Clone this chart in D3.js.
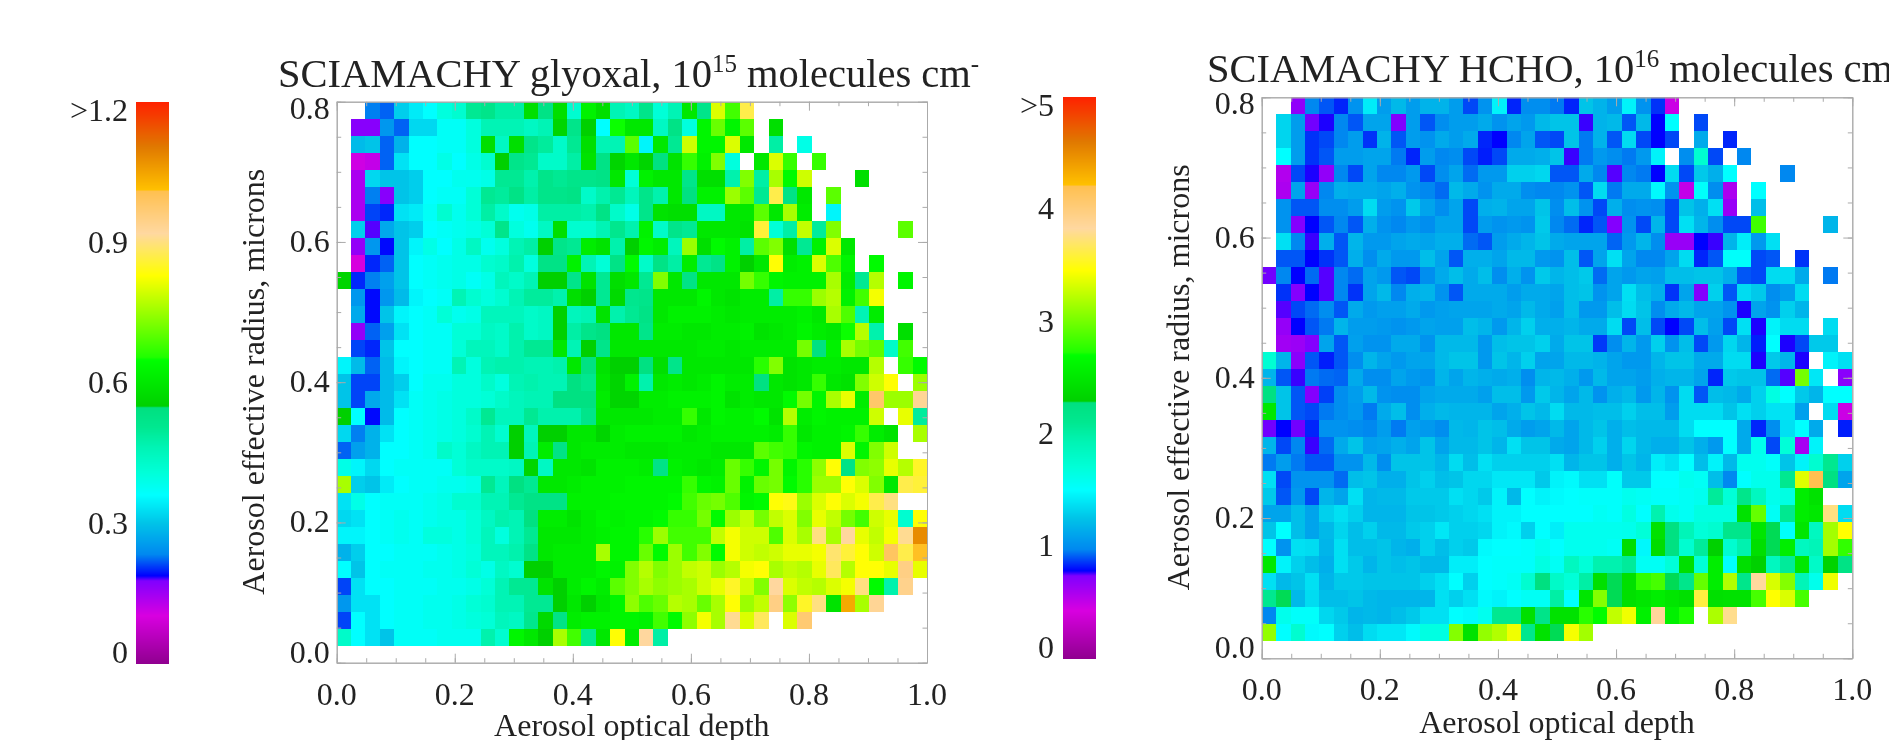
<!DOCTYPE html>
<html lang="en">
<head>
<title>SCIAMACHY glyoxal and HCHO</title>
<script src="https://d3js.org/d3.v7.min.js"></script>
<style>
  html, body { margin: 0; padding: 0; background: #fff; overflow: hidden; }
  svg { display: block; filter: blur(0.6px); }
  text { font-family: "Liberation Serif", serif; fill: #222; }
  .domain, .tick line { stroke: #aaa; stroke-width: 1; }
</style>
</head>
<body>
<script>
var _ = null

// cell values, top row first, in hundredths of the colour bar unit
var glyoxalRows = [
[_,_,23,22,31,34,36,40,42,50,52,48,48,58,53,58,42,62,58,46,44,52,41,46,60,52,80,68,87],
[_,17,17,25,22,32,32,37,37,40,46,46,46,44,46,56,52,55,36,65,60,60,44,53,40,63,71,63,70,_,58],
[_,29,30,22,28,36,36,37,37,40,58,44,58,52,49,43,50,58,46,46,70,35,60,50,79,63,63,80,60,_,48,_,39],
[_,11,12,22,33,36,36,39,36,39,42,55,52,50,43,43,48,59,53,56,60,56,54,59,67,62,73,40,_,60,80,67,_,67],
[_,14,32,30,30,31,36,36,38,38,39,50,50,47,52,50,52,52,53,60,41,62,60,60,52,58,58,47,73,48,76,64,79,_,_,_,58],
[_,14,23,17,30,31,36,37,37,41,50,49,53,48,52,52,53,43,47,50,45,52,47,60,54,62,62,75,70,50,87,53,60,_,70],
[_,14,21,20,33,34,37,42,38,41,48,43,38,39,48,48,48,47,53,43,39,52,59,58,58,44,44,60,60,70,60,76,61,_,35],
[_,31,18,27,30,31,36,37,38,39,41,52,40,38,44,58,42,42,46,51,47,62,43,52,50,60,60,60,59,86,41,48,78,49,73,_,_,_,_,70],
[_,16,25,19,30,35,39,36,39,44,38,40,46,48,55,52,50,61,59,47,55,63,61,45,75,58,64,62,48,70,73,58,50,62,80,60],
[_,10,20,22,30,36,37,38,39,39,42,43,47,40,53,53,62,46,41,53,64,43,53,48,61,50,53,62,55,60,83,61,62,80,69,63,_,64],
[56,20,23,26,30,36,37,38,39,37,39,45,43,46,55,55,52,59,50,58,60,50,73,60,53,60,60,60,72,67,63,62,62,62,76,61,50,77,_,63],
[_,25,19,25,29,35,36,37,46,42,40,42,46,49,49,47,58,55,50,57,51,52,60,60,60,63,60,59,61,61,48,67,67,75,77,62,68,82],
[_,27,19,30,35,36,37,41,38,39,45,45,45,43,44,55,45,46,59,47,50,53,60,62,62,62,61,60,61,61,61,61,62,60,76,69,46,61],
[_,16,22,26,33,36,37,37,41,41,44,43,47,43,44,55,48,52,54,60,60,52,61,61,60,60,61,61,62,59,60,61,63,61,60,65,77,47,_,58],
[_,21,20,30,36,36,37,37,41,45,45,43,47,50,50,60,46,55,52,60,60,60,60,60,60,61,61,60,61,61,61,61,72,54,62,76,72,70,43,68],
[35,29,22,29,35,36,37,37,46,40,46,47,47,46,46,47,60,54,59,55,55,54,58,52,60,60,60,60,60,66,73,59,60,61,61,60,60,77,_,67,64],
[30,21,21,29,31,36,38,38,40,40,43,40,46,47,46,46,54,51,60,56,62,47,60,61,60,61,63,61,61,54,60,59,60,67,60,59,73,79,83,_,75],
[30,21,27,29,33,37,38,39,40,40,41,43,45,46,46,54,54,54,61,56,56,61,61,62,62,62,63,59,61,60,60,64,72,63,76,81,61,98,75,75,93],
[55,36,19,29,36,37,38,39,40,43,50,45,45,50,47,47,47,52,60,60,60,60,61,61,67,60,63,62,62,64,59,77,61,63,62,62,62,79,_,81,49],
[32,23,28,33,36,37,38,39,40,42,46,42,55,45,55,55,60,60,56,61,62,62,62,62,60,61,62,62,62,62,61,67,60,62,62,63,67,61,59,_,76],
[22,26,28,36,36,37,38,43,41,44,46,46,55,46,61,53,60,61,61,61,60,60,60,61,61,61,60,60,60,70,68,67,63,62,62,80,63,73,79],
[39,35,32,36,37,37,37,37,41,43,43,43,44,56,44,60,60,59,62,62,62,61,53,62,61,60,61,71,67,63,72,63,66,74,83,53,73,74,81,77,85],
[76,31,30,34,36,37,37,38,38,39,50,45,54,50,60,60,61,62,62,62,63,63,63,63,67,63,62,71,62,71,72,64,66,75,75,83,80,73,60,87,86],
[33,39,36,37,37,37,38,39,42,42,46,46,50,53,53,53,62,62,62,63,63,63,63,64,68,71,72,69,63,64,83,84,75,80,83,80,82,87,90],
[32,33,36,37,38,37,38,39,39,41,44,47,46,54,61,61,59,61,63,62,63,63,64,67,67,72,64,75,78,72,78,80,73,81,78,72,68,79,81,42,83],
[35,35,36,37,38,37,40,40,39,41,45,40,46,50,60,60,60,61,62,63,63,66,75,68,68,68,78,82,79,79,69,80,76,90,76,92,81,78,82,91,108],
[28,31,36,36,37,37,37,38,39,40,45,45,47,53,60,61,61,61,76,63,63,71,64,75,68,73,64,82,79,78,79,81,81,82,89,86,83,79,99,87,101],
[36,30,36,37,37,37,38,38,39,41,39,44,42,55,55,61,61,61,63,62,73,77,73,75,78,79,75,77,82,83,76,78,77,81,88,77,83,83,81,95,81],
[21,33,36,36,37,37,37,38,38,39,41,46,50,50,59,55,61,63,61,70,73,76,74,75,76,79,81,85,79,73,92,80,78,77,80,82,90,64,47,94],
[25,33,33,36,37,37,38,38,39,41,42,46,46,50,50,55,60,55,60,63,74,69,71,77,76,71,76,83,75,78,95,74,85,90,59,104,76,93],
[21,36,33,36,37,37,38,38,39,40,41,45,44,51,57,53,61,62,62,63,63,62,68,64,74,82,76,91,80,88,_,80,97],
[43,36,33,30,37,37,37,38,38,38,47,42,63,60,55,76,68,50,60,83,61,92,48]
]

var hchoRows = [
[_,_,68,97,90,83,102,142,107,120,107,117,117,107,88,102,145,83,100,100,95,83,125,117,107,145,102,85,47],
[_,132,107,74,77,97,90,110,110,73,107,90,100,107,107,113,102,110,105,120,125,125,76,117,120,90,120,78,150,_,88],
[_,132,107,85,88,97,107,85,117,90,107,102,113,107,113,83,78,97,110,90,88,125,95,117,90,135,88,78,88,_,113,_,83],
[_,150,107,85,90,107,107,110,110,95,83,107,97,100,88,82,88,113,113,115,125,76,95,105,100,95,105,145,_,100,175,88,_,97],
[_,56,88,77,67,97,88,110,97,97,105,88,100,110,93,105,105,130,130,133,90,90,113,97,75,97,95,78,135,88,127,115,150,_,_,_,97],
[_,58,110,65,97,115,113,113,110,115,102,97,93,120,113,102,113,113,100,97,97,102,90,135,95,113,113,148,102,50,152,100,58,_,150],
[_,102,90,90,100,100,107,135,107,102,127,110,100,110,88,115,117,110,110,125,100,122,102,88,115,100,102,100,88,125,115,137,65,_,122],
[_,102,72,78,90,97,90,115,102,97,105,100,110,110,88,107,102,105,102,127,97,93,83,90,72,102,88,118,88,137,118,100,88,88,283,_,_,_,_,118],
[_,137,97,76,115,90,118,105,105,110,113,110,115,115,93,90,107,113,118,125,113,110,110,110,92,105,118,100,65,65,78,76,118,143,105,137],
[_,90,90,78,85,90,115,100,113,105,105,122,110,90,115,115,110,120,120,105,102,122,90,110,137,110,97,97,110,135,83,90,152,152,88,90,_,85],
[74,97,78,93,75,97,93,110,105,90,88,100,113,122,113,122,100,115,102,127,118,122,127,93,110,105,110,108,122,122,125,125,115,90,88,135,135,113,_,95],
[_,85,72,78,75,97,85,110,120,97,115,118,102,90,113,113,113,107,113,113,110,122,125,102,110,137,122,115,85,110,72,130,90,135,127,100,107,135],
[_,75,88,93,100,90,113,105,108,108,113,105,108,110,110,110,113,110,120,113,108,122,105,105,122,135,125,100,113,120,110,110,102,77,110,102,130,118],
[_,66,78,90,95,118,107,107,105,102,105,110,108,108,122,118,105,118,130,115,115,118,113,113,135,88,122,88,78,88,122,108,88,137,77,145,135,135,_,135],
[_,62,64,72,110,90,108,102,102,113,113,102,120,120,120,105,122,125,125,130,113,125,125,86,100,118,105,130,102,122,88,105,133,118,82,150,77,88,127,127],
[173,118,70,90,82,90,100,118,110,105,110,110,120,125,125,105,125,118,130,110,110,120,120,117,110,105,105,118,125,125,113,113,135,135,77,127,118,77,_,145,137],
[118,90,76,95,93,92,113,100,100,110,105,102,118,110,118,115,113,115,100,118,120,115,105,120,110,110,107,115,118,118,110,83,127,125,125,93,75,300,140,_,70],
[225,125,90,72,87,100,107,120,102,100,100,110,113,113,113,108,122,122,105,127,118,110,120,102,115,120,105,118,102,135,90,122,120,113,130,165,150,127,118,150,150],
[250,125,90,88,95,100,105,95,113,122,100,115,120,118,118,118,110,115,125,120,135,120,120,122,122,130,122,122,107,135,135,135,125,137,130,138,138,108,_,135,47],
[74,78,74,83,102,102,100,97,107,95,108,105,100,120,118,125,122,113,107,110,120,110,120,125,115,122,120,120,120,135,150,150,150,113,83,100,137,150,113,_,82],
[118,88,97,76,93,113,125,108,110,115,110,125,110,120,120,125,118,137,125,125,113,110,120,130,115,132,120,115,115,125,115,105,150,113,160,88,170,60,145],
[95,107,95,90,90,102,102,120,100,125,125,125,118,135,122,137,130,130,130,130,137,118,125,125,115,125,118,143,137,150,122,145,120,158,158,152,125,145,175,210,130],
[137,88,102,102,102,93,122,125,115,115,125,130,122,125,133,133,140,140,140,127,145,148,137,137,152,127,127,150,150,158,155,122,97,150,160,160,210,335,420,225,110],
[127,90,105,88,118,110,137,118,120,120,127,127,127,137,133,127,145,120,150,145,148,150,152,152,152,158,155,152,152,155,158,205,170,215,185,160,165,255,245],
[110,110,122,110,130,137,130,118,118,118,125,125,127,130,133,137,145,145,150,150,150,150,150,155,152,165,150,195,160,155,165,165,165,245,295,155,210,255,250,375,135],
[125,150,122,110,120,132,122,130,120,120,127,130,140,130,130,133,145,148,130,150,143,158,158,158,158,160,170,245,225,190,170,175,215,215,248,228,152,248,185,315,345],
[150,102,137,135,118,137,122,122,125,118,115,130,122,130,127,148,150,150,152,158,150,158,158,158,155,240,147,240,225,175,205,230,175,195,242,228,255,185,190,315,278],
[250,145,130,122,115,137,127,118,125,122,125,120,120,143,143,150,152,152,152,165,155,185,170,195,195,205,155,155,170,242,170,255,150,242,230,185,205,250,180,232,222],
[137,120,125,137,118,127,127,125,125,125,125,130,137,150,130,150,152,155,175,227,180,170,200,243,228,243,278,285,228,215,295,255,320,215,382,332,305,190,160,340],
[210,228,120,135,122,122,125,120,118,118,118,118,137,130,137,148,145,150,155,155,200,150,248,305,228,243,248,255,248,243,360,243,245,245,285,345,333,285],
[97,160,152,152,133,127,118,120,118,122,127,137,137,150,148,158,210,210,243,218,245,245,275,268,325,340,258,385,258,272,_,318,378],
[310,150,175,148,150,130,122,135,140,140,148,165,165,305,245,310,320,340,212,245,228,342,315]
]

var colorStops = [0, .085, .147, .156, .194, .25, .30, .34, .385, .42, .455, .458, .54, .545, .69, .765, .84, .843, .92, 1]
var colorRange = ["#900090", "#d800e0", "#8000ff", "#0000ff", "#0088f0", "#00c4e8", "#00ffff", "#00ffd8", "#00f4b4", "#00e890", "#00e080",
                  "#00d000", "#00ff00", "#20ff00", "#ffff00", "#ffd8a0", "#ffc050", "#ffc000", "#e07800", "#ff2000"]
var color = d3.scaleLinear().domain(colorStops).range(colorRange)

var xTicks = [0, 0.2, 0.4, 0.6, 0.8, 1.0]
var yTicks = [0, 0.2, 0.4, 0.6, 0.8]
var minorX = d3.range(0, 21).map(function(i){ return i / 20 })
var minorY = d3.range(0, 17).map(function(i){ return i / 20 })

var width = 1889, height = 740
var svg = d3.select("body").append("svg").attr("width", width).attr("height", height)

var panels = [
  { rows: glyoxalRows, max: 1.2, left: 336.7, right: 927, top: 101.7, bottom: 662.7,
    name: "SCIAMACHY glyoxal, 10", exp: "15", titleX: 278, titleY: 87, clipX: 979,
    barL: 135.5, barR: 169, barT: 102, barB: 664, barLabelX: 128,
    barLabels: [[0, "0"], [0.3, "0.3"], [0.6, "0.6"], [0.9, "0.9"], [1.2, ">1.2"]],
    yTitleX: 264, xTitleY: 736, xLabelY: 705 },
  { rows: hchoRows, max: 5, left: 1261.7, right: 1852.3, top: 97.3, bottom: 658.3,
    name: "SCIAMACHY HCHO, 10", exp: "16", titleX: 1207, titleY: 82, clipX: 1889,
    barL: 1063, barR: 1096, barT: 97, barB: 658.6, barLabelX: 1054,
    barLabels: [[0, "0"], [1, "1"], [2, "2"], [3, "3"], [4, "4"], [5, ">5"]],
    yTitleX: 1189, xTitleY: 733, xLabelY: 700 }
]

panels.forEach(function(p, k){
  var g = svg.append("g")

  var cols = d3.scaleBand().domain(d3.range(41)).range([p.left, p.right])
  var rows = d3.scaleBand().domain(d3.range(33)).range([p.top, p.bottom])
  var x = d3.scaleLinear().domain([0, 1]).range([p.left, p.right])
  var y = d3.scaleLinear().domain([0, 0.8]).range([p.bottom, p.top])
  var valueT = d3.scaleLinear().domain([0, p.max]).range([0, 1]).clamp(true)

  // cells
  p.rows.forEach(function(row, r){
    g.append("g").attr("shape-rendering", "crispEdges").selectAll("rect")
      .data(row.map(function(v, c){ return { c: c, v: v } }).filter(function(d){ return d.v !== null }))
      .enter().append("rect")
      .attr("x", function(d){ return cols(d.c) })
      .attr("y", rows(r))
      .attr("width", cols.bandwidth())
      .attr("height", rows.bandwidth())
      .attr("fill", function(d){ return color(valueT(d.v / 100)) })
  })

  // frame: major ticks and minor ticks on all four sides
  var fmt = d3.format(".1f")
  var sides = [
    [d3.axisBottom(x), "translate(0," + p.bottom + ")", xTicks, minorX],
    [d3.axisTop(x), "translate(0," + p.top + ")", xTicks, minorX],
    [d3.axisLeft(y), "translate(" + p.left + ",0)", yTicks, minorY],
    [d3.axisRight(y), "translate(" + p.right + ",0)", yTicks, minorY]
  ]
  sides.forEach(function(s){
    g.append("g").attr("transform", s[1])
      .call(s[0].tickValues(s[3]).tickSize(-4.5).tickSizeOuter(0).tickFormat(""))
    g.append("g").attr("transform", s[1])
      .call(s[0].tickValues(s[2]).tickSize(-9).tickSizeOuter(0).tickFormat(""))
  })

  // tick labels, the end ones pulled in off the corners
  g.selectAll(".xlab").data(xTicks).enter().append("text")
    .attr("x", function(d){ return x(d) }).attr("y", p.xLabelY)
    .attr("text-anchor", "middle").attr("font-size", 32).text(fmt)
  g.selectAll(".ylab").data(yTicks).enter().append("text")
    .attr("x", p.left - 7)
    .attr("y", function(d){ return y(d) + 10 + (d === 0.8 ? 7 : d === 0 ? -10 : 0) })
    .attr("text-anchor", "end").attr("font-size", 32).text(fmt)

  // axis titles
  g.append("text").attr("x", (p.left + p.right) / 2).attr("y", p.xTitleY)
    .attr("text-anchor", "middle").attr("font-size", 32).text("Aerosol optical depth")
  g.append("text").attr("transform", "translate(" + p.yTitleX + "," + (p.top + 280) + ") rotate(-90)")
    .attr("text-anchor", "middle").attr("font-size", 32).text("Aerosol effective radius, microns")

  // title, cut off at the panel edge as in the original
  svg.append("clipPath").attr("id", "titleclip" + k).append("rect")
    .attr("x", p.titleX - 5).attr("y", 0).attr("width", p.clipX - p.titleX + 5).attr("height", 100)
  var title = g.append("text").attr("clip-path", "url(#titleclip" + k + ")")
    .attr("x", p.titleX).attr("y", p.titleY).attr("font-size", 40.5)
  title.append("tspan").text(p.name)
  title.append("tspan").attr("dy", -15).attr("font-size", 25).text(p.exp)
  title.append("tspan").attr("dy", 15).text(" molecules cm")
  title.append("tspan").attr("dy", -15).attr("font-size", 25).text("-2")

  // colour bar
  var barY = d3.scaleLinear().domain([0, 1]).range([p.barB, p.barT])
  g.append("g").attr("shape-rendering", "crispEdges").selectAll("rect").data(d3.range(0, 1, 1 / 562)).enter().append("rect")
    .attr("x", p.barL).attr("width", p.barR - p.barL)
    .attr("y", function(d){ return barY(d) - 1 }).attr("height", 1.4)
    .attr("fill", function(d){ return color(d) })
  g.selectAll(".barlab").data(p.barLabels).enter().append("text")
    .attr("x", p.barLabelX)
    .attr("y", function(d){
      var t = d[0] / p.max
      return barY(t) + 10 + (t === 0 ? -11 : t === 1 ? 9 : 0)
    })
    .attr("text-anchor", "end").attr("font-size", 32).text(function(d){ return d[1] })
})
</script>
</body>
</html>
